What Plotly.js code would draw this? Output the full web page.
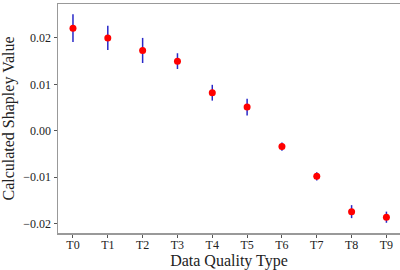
<!DOCTYPE html>
<html>
<head>
<meta charset="utf-8">
<script src="https://cdn.plot.ly/plotly-3.0.1.min.js"></script>
<style>html,body{margin:0;padding:0;background:#fff;}#chart{width:400px;height:270px;}</style>
</head>
<body>
<div id="chart"></div>
<script>
const categories = ["T0","T1","T2","T3","T4","T5","T6","T7","T8","T9"];
const shapleyValues = [0.0221, 0.0200, 0.0173, 0.0150, 0.0082, 0.0051, -0.0034, -0.0098, -0.0174, -0.0186];
const errorValues = [0.0030, 0.0026, 0.0027, 0.0017, 0.0017, 0.0018, 0.0009, 0.0009, 0.0014, 0.0012];
const yTickVals = [-0.02, -0.01, 0.00, 0.01, 0.02];
const yTickText = ["\u22120.02", "\u22120.01", "0.00", "0.01", "0.02"];

const trace = {
  x: categories.map((c, i) => i),
  y: shapleyValues,
  type: 'scatter',
  mode: 'markers',
  marker: {color: '#ff0000', size: 7},
  error_y: {type: 'data', array: errorValues, visible: true, color: '#2828c8', thickness: 1.5, width: 0}
};

const font = {family: '"Liberation Serif", "Times New Roman", serif', color: '#222'};
const layout = {
  width: 400, height: 270,
  margin: {l: 58, r: 0, t: 4, b: 37},
  paper_bgcolor: '#fff', plot_bgcolor: '#fff',
  showlegend: false,
  font: font,
  xaxis: {
    range: [-0.43, 9.39],
    tickvals: categories.map((c, i) => i),
    ticktext: categories,
    tickfont: {family: font.family, size: 12, color: '#222'},
    ticklabelstandoff: -3,
    showgrid: false, zeroline: false,
    showline: true, linecolor: '#999', linewidth: 1.5, mirror: true,
    ticks: 'outside', ticklen: 3, tickcolor: '#555', tickwidth: 1,
    title: {text: 'Data Quality Type', font: {family: font.family, size: 16, color: '#222'}, standoff: 2}
  },
  yaxis: {
    range: [-0.0220, 0.0273],
    tickvals: yTickVals,
    ticktext: yTickText,
    tickfont: {family: font.family, size: 12, color: '#222'},
    showgrid: false, zeroline: false,
    showline: true, linecolor: '#999', linewidth: 1.5,
    ticks: 'outside', ticklen: 3, tickcolor: '#555', tickwidth: 1,
    title: {text: 'Calculated Shapley Value', font: {family: font.family, size: 16, color: '#222'}, standoff: 6}
  }
};

Plotly.newPlot('chart', [trace], layout, {displayModeBar: false, staticPlot: true});
</script>
</body>
</html>
